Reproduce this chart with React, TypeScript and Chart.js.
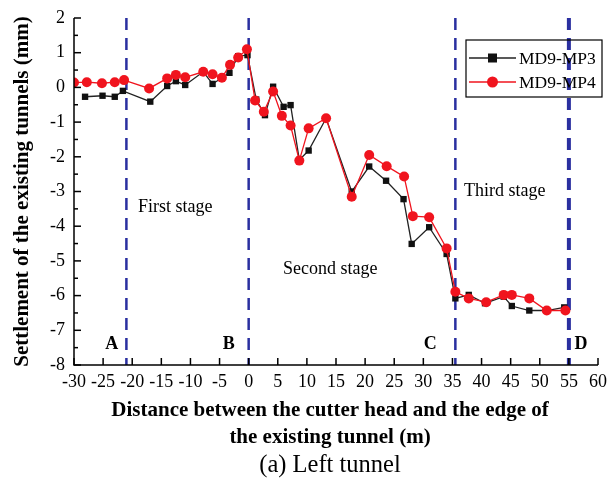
import React, { useEffect, useRef } from "react";
import { Chart, registerables } from "chart.js";

Chart.register(...registerables);

const seriesNames = ["MD9-MP3", "MD9-MP4"];

const mp3X = [-28.1, -25.1, -23.0, -21.6, -16.9, -14.0, -12.5, -10.9, -7.8, -6.2, -3.3, -1.8, -0.2, 1.3, 2.8, 4.2, 6.0, 7.2, 8.7, 10.3, 13.3, 17.7, 20.7, 23.6, 26.6, 28.0, 31.0, 34.0, 35.5, 37.8, 40.6, 43.8, 45.2, 48.2, 51.2, 54.2];
const mp3Y = [-0.27, -0.24, -0.27, -0.10, -0.41, 0.04, 0.18, 0.07, 0.45, 0.10, 0.42, 0.90, 0.93, -0.35, -0.80, 0.02, -0.56, -0.51, -2.09, -1.82, -0.89, -3.0, -2.28, -2.69, -3.22, -4.51, -4.03, -4.80, -6.08, -5.98, -6.22, -6.03, -6.30, -6.43, -6.43, -6.34];

const mp4X = [-30, -27.8, -25.2, -23.0, -21.4, -17.1, -14.0, -12.5, -10.9, -7.8, -6.2, -4.6, -3.2, -1.8, -0.3, 1.1, 2.6, 4.2, 5.7, 7.2, 8.7, 10.3, 13.3, 17.7, 20.7, 23.7, 26.7, 28.2, 31.0, 34.0, 35.5, 37.8, 40.8, 43.8, 45.2, 48.2, 51.2, 54.4];
const mp4Y = [0.14, 0.15, 0.12, 0.15, 0.21, -0.03, 0.26, 0.36, 0.29, 0.45, 0.38, 0.28, 0.65, 0.86, 1.10, -0.38, -0.70, -0.12, -0.82, -1.10, -2.11, -1.18, -0.89, -3.15, -1.95, -2.27, -2.57, -3.71, -3.74, -4.64, -5.89, -6.08, -6.19, -5.98, -5.98, -6.08, -6.43, -6.43];

const stageBoundaries = [-21, 0, 35.5, 55];
const pointLetters = ["A", "B", "C", "D"];
const stageNames = ["First stage", "Second stage", "Third stage"];

const xMin = -30, xMax = 60, xStep = 5;
const yMin = -8, yMax = 2, yStep = 1;

const xTitleLines = ["Distance between the cutter head and the edge of", "the existing tunnel (m)"];
const yTitle = "Settlement of the existing tunnels (mm)";
const caption = "(a) Left tunnel";

// annotation placement (data coordinates)
const letterPos = [[-23.5, -7.4], [-3.4, -7.4], [31.2, -7.4], [57.1, -7.4]];
const stagePos = [[-19.0, -3.45], [5.9, -5.23], [37.0, -2.98]];

const SERIF = "'Liberation Serif', 'DejaVu Serif', serif";
const BLUE = "#2a2fa0";

const decorPlugin = {
  id: "decor",
  beforeDatasetsDraw(chart: any) {
    const { ctx, chartArea, scales } = chart;
    const xs = scales.x, ys = scales.y;
    ctx.save();
    stageBoundaries.forEach((v, i) => {
      const px = xs.getPixelForValue(v);
      ctx.strokeStyle = BLUE;
      ctx.lineWidth = i === 3 ? 4 : 2.5;
      ctx.setLineDash([12, 8]);
      ctx.beginPath();
      ctx.moveTo(px, chartArea.top);
      ctx.lineTo(px, chartArea.bottom);
      ctx.stroke();
    });
    ctx.setLineDash([]);
    ctx.fillStyle = "#000";
    ctx.font = `18px ${SERIF}`;
    ctx.textAlign = "left";
    ctx.textBaseline = "middle";
    stageNames.forEach((s, i) => {
      ctx.fillText(s, xs.getPixelForValue(stagePos[i][0]), ys.getPixelForValue(stagePos[i][1]));
    });
    ctx.font = `bold 18px ${SERIF}`;
    ctx.textAlign = "center";
    pointLetters.forEach((s, i) => {
      ctx.fillText(s, xs.getPixelForValue(letterPos[i][0]), ys.getPixelForValue(letterPos[i][1]));
    });
    ctx.restore();
  },
  afterDraw(chart: any) {
    const { ctx, chartArea, scales } = chart;
    const xs = scales.x, ys = scales.y;
    ctx.save();
    ctx.strokeStyle = "#000";
    ctx.lineWidth = 1.5;
    // axes
    ctx.beginPath();
    ctx.moveTo(chartArea.left, chartArea.top);
    ctx.lineTo(chartArea.left, chartArea.bottom);
    ctx.lineTo(chartArea.right, chartArea.bottom);
    ctx.stroke();
    // x ticks (inward)
    for (let v = xMin; v <= xMax; v += xStep) {
      const px = xs.getPixelForValue(v);
      ctx.beginPath();
      ctx.moveTo(px, chartArea.bottom);
      ctx.lineTo(px, chartArea.bottom - 7);
      ctx.stroke();
    }
    // y ticks (inward), minor at halves
    for (let v = yMin; v <= yMax + 1e-9; v += yStep / 2) {
      const py = ys.getPixelForValue(v);
      const major = Math.abs(v - Math.round(v)) < 1e-9;
      ctx.beginPath();
      ctx.moveTo(chartArea.left, py);
      ctx.lineTo(chartArea.left + (major ? 7 : 4), py);
      ctx.stroke();
    }
    // legend
    const lx = 466, ly = 40, lw = 136, lh = 57;
    ctx.lineWidth = 1.2;
    ctx.strokeRect(lx, ly, lw, lh);
    chart.data.datasets.forEach((ds: any, i: number) => {
      const cy = ly + 18 + i * 24;
      ctx.strokeStyle = ds.borderColor;
      ctx.lineWidth = 1.5;
      ctx.beginPath();
      ctx.moveTo(lx + 3, cy);
      ctx.lineTo(lx + 50, cy);
      ctx.stroke();
      ctx.fillStyle = ds.backgroundColor;
      if (ds.pointStyle === "rect") {
        ctx.fillRect(lx + 22, cy - 4.5, 9, 9);
      } else {
        ctx.beginPath();
        ctx.arc(lx + 26.5, cy, 5.5, 0, Math.PI * 2);
        ctx.fill();
      }
      ctx.fillStyle = "#000";
      ctx.font = `17.5px ${SERIF}`;
      ctx.textAlign = "left";
      ctx.textBaseline = "middle";
      ctx.fillText(ds.label, lx + 53, cy + 1);
    });
    // titles
    ctx.fillStyle = "#000";
    ctx.font = `bold 21px ${SERIF}`;
    ctx.textAlign = "center";
    ctx.textBaseline = "middle";
    ctx.fillText(xTitleLines[0], 330, 411);
    ctx.fillText(xTitleLines[1], 330, 438);
    ctx.font = `24.5px ${SERIF}`;
    ctx.fillText(caption, 330, 466);
    ctx.save();
    ctx.translate(23, (chartArea.top + chartArea.bottom) / 2);
    ctx.rotate(-Math.PI / 2);
    ctx.font = `bold 21px ${SERIF}`;
    ctx.fillText(yTitle, 0, 0);
    ctx.restore();
    ctx.restore();
  },
};

export default function App() {
  const ref = useRef<HTMLCanvasElement>(null);
  useEffect(() => {
    if (!ref.current) return;
    const chart = new Chart(ref.current, {
      type: "line",
      data: {
        datasets: [
          {
            label: seriesNames[0],
            data: mp3X.map((x, i) => ({ x, y: mp3Y[i] })),
            borderColor: "#222222",
            backgroundColor: "#111111",
            borderWidth: 1.3,
            pointStyle: "rect",
            pointRadius: 4.5,
            pointBorderWidth: 0,
            order: 1,
          },
          {
            label: seriesNames[1],
            data: mp4X.map((x, i) => ({ x, y: mp4Y[i] })),
            borderColor: "#f0141e",
            backgroundColor: "#f0141e",
            borderWidth: 1.3,
            pointStyle: "circle",
            pointRadius: 5,
            pointBorderWidth: 0,
            order: 0,
          },
        ],
      },
      options: {
        responsive: false,
        animation: false,
        layout: { padding: { left: 0, right: 9, top: 18, bottom: 0 } },
        plugins: { legend: { display: false }, tooltip: { enabled: false } },
        scales: {
          x: {
            type: "linear",
            min: xMin,
            max: xMax,
            afterFit: (s: any) => { s.height = 124; s.paddingLeft = 0; s.paddingRight = 0; },
            afterBuildTicks: (s: any) => {
              const t = [];
              for (let v = xMin; v <= xMax; v += xStep) t.push({ value: v });
              s.ticks = t;
            },
            grid: { display: false, drawTicks: false },
            border: { display: false },
            ticks: {
              color: "#000",
              padding: 6,
              maxRotation: 0,
              autoSkip: false,
              font: { family: SERIF, size: 18 },
            },
          },
          y: {
            type: "linear",
            min: yMin,
            max: yMax,
            afterFit: (s: any) => { s.width = 74; s.paddingTop = 0; s.paddingBottom = 0; },
            afterBuildTicks: (s: any) => {
              const t = [];
              for (let v = yMin; v <= yMax; v += yStep) t.push({ value: v });
              s.ticks = t;
            },
            grid: { display: false, drawTicks: false },
            border: { display: false },
            ticks: {
              color: "#000",
              padding: 9,
              autoSkip: false,
              font: { family: SERIF, size: 18 },
            },
          },
        },
      },
      plugins: [decorPlugin],
    });
    return () => chart.destroy();
  }, []);
  return (
    <div style={{ position: "fixed", left: 0, top: 0, width: 607, height: 489, background: "#fff" }}>
      <canvas ref={ref} width={607} height={489} style={{ display: "block" }} />
    </div>
  );
}
